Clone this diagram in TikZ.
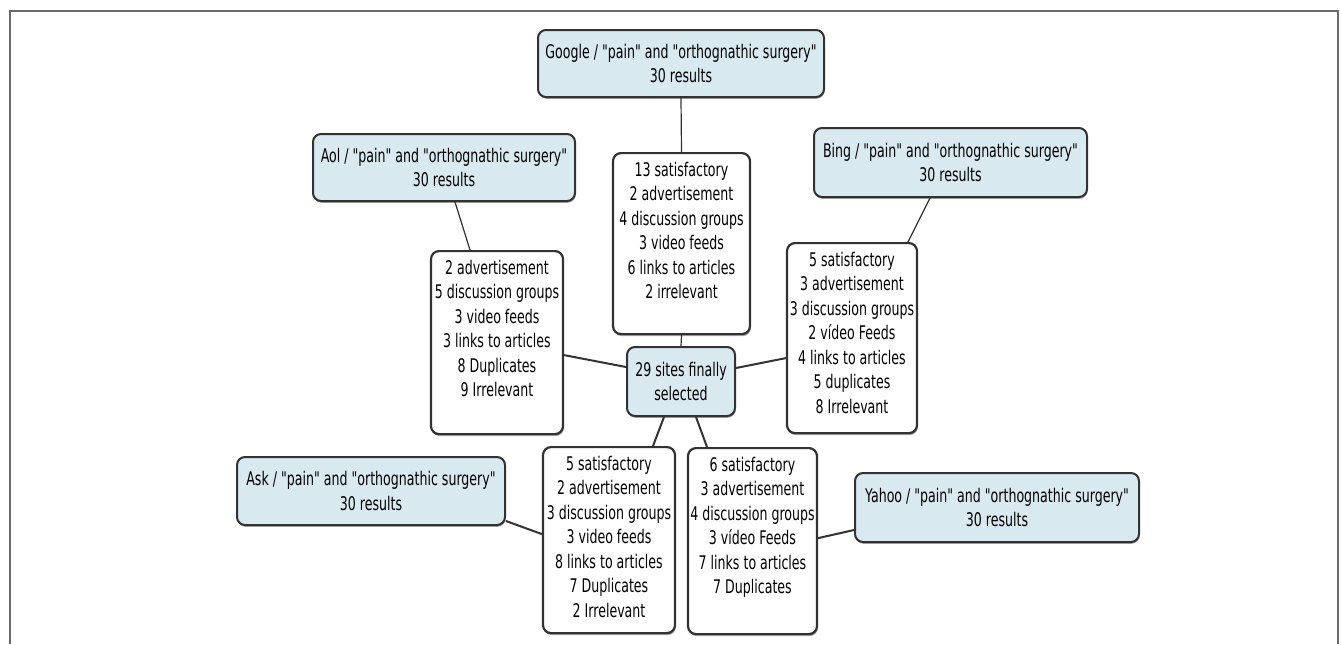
\documentclass[tikz,border=0pt]{standalone}
\usepackage{fontspec}
\usepackage{tikz}
\usetikzlibrary{shadows}
\newfontfamily\boxfont{DejaVu Sans}[FakeStretch=0.67]
\definecolor{enginefill}{RGB}{216,233,240}
\definecolor{boxline}{RGB}{50,50,50}
\definecolor{framegray}{RGB}{105,105,105}
% top-aligned list of counts inside a result box
\newcommand{\reslist}[3]{\parbox[t][#2][t]{#1}{\centering\vspace*{4.5pt}#3}}

\begin{document}
\begin{tikzpicture}[
    x=0.5pt, y=-0.5pt,
    every node/.style={font=\boxfont\fontsize{9.4pt}{12.25pt}\selectfont},
    engine/.style={draw=boxline, fill=enginefill, rounded corners=4pt, line width=1pt, align=center, inner sep=0pt,
        drop shadow={shadow xshift=0.3pt, shadow yshift=-0.9pt, fill=black!70, opacity=0.5}},
    results/.style={draw=boxline, fill=white, rounded corners=4pt, line width=1.1pt, anchor=north, inner sep=0pt,
        drop shadow={shadow xshift=0.4pt, shadow yshift=-1pt, fill=black!70, opacity=0.5}},
    link/.style={draw=boxline, line width=0.6pt},
    tie/.style={draw=boxline, line width=1pt},
]
    \useasboundingbox (0,0) rectangle (1341,644);
    % Frame
    \draw[framegray, line width=1pt] (10,644) -- (10,11) -- (1338,11) -- (1338,644);

    % Search engines
    \node[engine, minimum width=143pt, minimum height=33.5pt] (google) at (681,63.5) {Google / "pain" and "orthognathic surgery"\\30 results};
    \node[engine, minimum width=131pt, minimum height=33.5pt] (aol) at (444,167.5) {Aol / "pain" and "orthognathic surgery"\\30 results};
    \node[engine, minimum width=136.5pt, minimum height=34.5pt] (bing) at (950.5,162.5) {Bing / "pain" and "orthognathic surgery"\\30 results};
    \node[engine, minimum width=134pt, minimum height=34pt] (ask) at (371,491) {Ask / "pain" and "orthognathic surgery"\\30 results};
    \node[engine, minimum width=142pt, minimum height=34.5pt] (yahoo) at (997,507.5) {Yahoo / "pain" and "orthognathic surgery"\\30 results};

    % Final selection
    \node[engine, minimum width=54pt, minimum height=34.5pt] (sel) at (681,381.5) {29 sites finally\\selected};

    % Results per engine
    \node[results] (googleres) at (681.5,152) {\reslist{68.5pt}{90.5pt}{13 satisfactory\\2 advertisement\\4 discussion groups\\3 video feeds\\6 links to articles\\2 irrelevant}};
    \node[results] (aolres) at (497,250) {\reslist{66pt}{91.5pt}{2 advertisement\\5 discussion groups\\3 video feeds\\3 links to articles\\8 Duplicates\\9 Irrelevant}};
    \node[results] (bingres) at (852,242) {\reslist{65pt}{95pt}{5 satisfactory\\3 advertisement\\3 discussion groups\\2 vídeo Feeds\\4 links to articles\\5 duplicates\\8 Irrelevant}};
    \node[results] (askres) at (609,446) {\reslist{66pt}{93pt}{5 satisfactory\\2 advertisement\\3 discussion groups\\3 video feeds\\8 links to articles\\7 Duplicates\\2 Irrelevant}};
    \node[results] (yahoores) at (752.5,447) {\reslist{64.5pt}{93pt}{6 satisfactory\\3 advertisement\\4 discussion groups\\3 vídeo Feeds\\7 links to articles\\7 Duplicates}};

    % Engine to results
    \draw[link] (google.south) -- (googleres.north);
    \draw[link] (googleres.south) -- (sel.north);
    \draw[link] ([xshift=5.5pt]aol.south) -- ([xshift=-13.5pt]aolres.north);
    \draw[link] ([xshift=-10.25pt]bing.south) -- ([xshift=28pt]bingres.north);
    \draw[tie] ([yshift=-15pt]ask.east) -- ([yshift=3pt]askres.west);
    \draw[tie] ([yshift=1.5pt]yahoores.east) -- ([yshift=-11.25pt]yahoo.west);

    % Results to selection
    \draw[tie] ([yshift=-6.25pt]aolres.east) -- ([yshift=7.25pt]sel.west);
    \draw[tie] ([yshift=6.75pt]sel.east) -- ([yshift=-10pt]bingres.west);
    \draw[tie] ([xshift=-8.5pt]sel.south) -- ([xshift=22pt]askres.north);
    \draw[tie] ([xshift=7.5pt]sel.south) -- ([xshift=-22.75pt]yahoores.north);
\end{tikzpicture}
\end{document}
